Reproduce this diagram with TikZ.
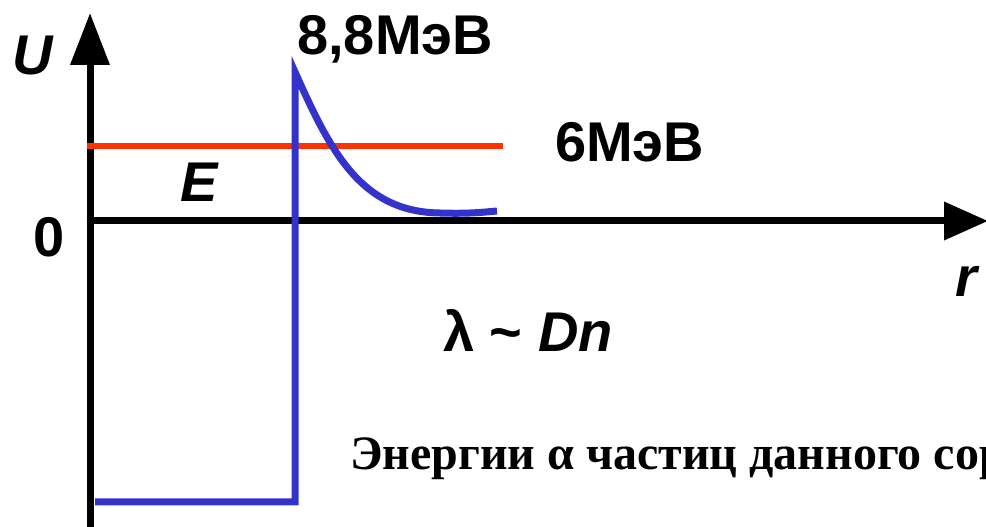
\documentclass[tikz,border=0pt]{standalone}
\usepackage{fontspec}
\setmainfont{Liberation Serif}
\setsansfont{Liberation Sans}
\usetikzlibrary{arrows.meta,calc}
\definecolor{BarrierClr}{rgb}{0.2,0.2,0.8}
\definecolor{EnergyClr}{rgb}{1,0.2,0}

\begin{document}
\begin{tikzpicture}[x=1pt,y=1pt,
  axis/.style={line width=7pt,black},
  lbl/.style={inner sep=0pt,anchor=base west,font=\sffamily\bfseries\fontsize{56}{60}\selectfont},
  ilbl/.style={lbl,font=\sffamily\bfseries\itshape\fontsize{56}{60}\selectfont}]
\useasboundingbox (0,0) rectangle (986,527);

% Σημεία των αξόνων.
\coordinate (O) at (90,306);
\coordinate (Ybot) at (90,0);
\coordinate (Ytip) at (90,514);
\coordinate (Xbeg) at (86.5,306);
\coordinate (Xtip) at (988,306);

% Άξονες.
\draw[axis,-{Triangle[length=52pt,width=38pt]}] (Ybot) -- (Ytip);
\draw[axis,-{Triangle[length=44pt,width=37pt]}] (Xbeg) -- (Xtip);

% Ενέργεια E.
\coordinate (Ebeg) at (87,381);
\coordinate (Eend) at (503,381);
\draw[EnergyClr,line width=6pt] (Ebeg) -- (Eend);

% Φράγμα δυναμικού.
\coordinate (Wbeg) at (95,25);
\coordinate (Wcorner) at (295,25);
\coordinate (Peak) at (295,455);
\coordinate (Tail) at (440,314);
\coordinate (Wend) at (497,316);
\draw[BarrierClr,line width=7pt,line join=miter]
  (Wbeg) -- (Wcorner) -- (Peak)
  .. controls (330,377) and (360,315) .. (Tail)
  .. controls (470,313) and (485,315) .. (Wend);

% Ετικέτες.
\node[ilbl] (lblU) at (12,452) {U};
\node[lbl] (lblPeak) at (297,472) {8,8МэВ};
\node[lbl] (lblSix) at (555,365) {6МэВ};
\node[ilbl] (lblE) at (180,325) {E};
\node[lbl] (lblZero) at (33,270) {0};
\node[ilbl] (lblR) at (955,230) {r};
\node[lbl] (lblLambda) at (443,175) {λ \textasciitilde\ \textit{Dn}};

% Κείμενο στο κάτω μέρος.
\node[inner sep=0pt,anchor=base west,font=\rmfamily\bfseries\fontsize{48}{52}\selectfont]
  (lblNote) at (350,57) {Энергии α частиц данного сор};

\end{tikzpicture}
\end{document}
